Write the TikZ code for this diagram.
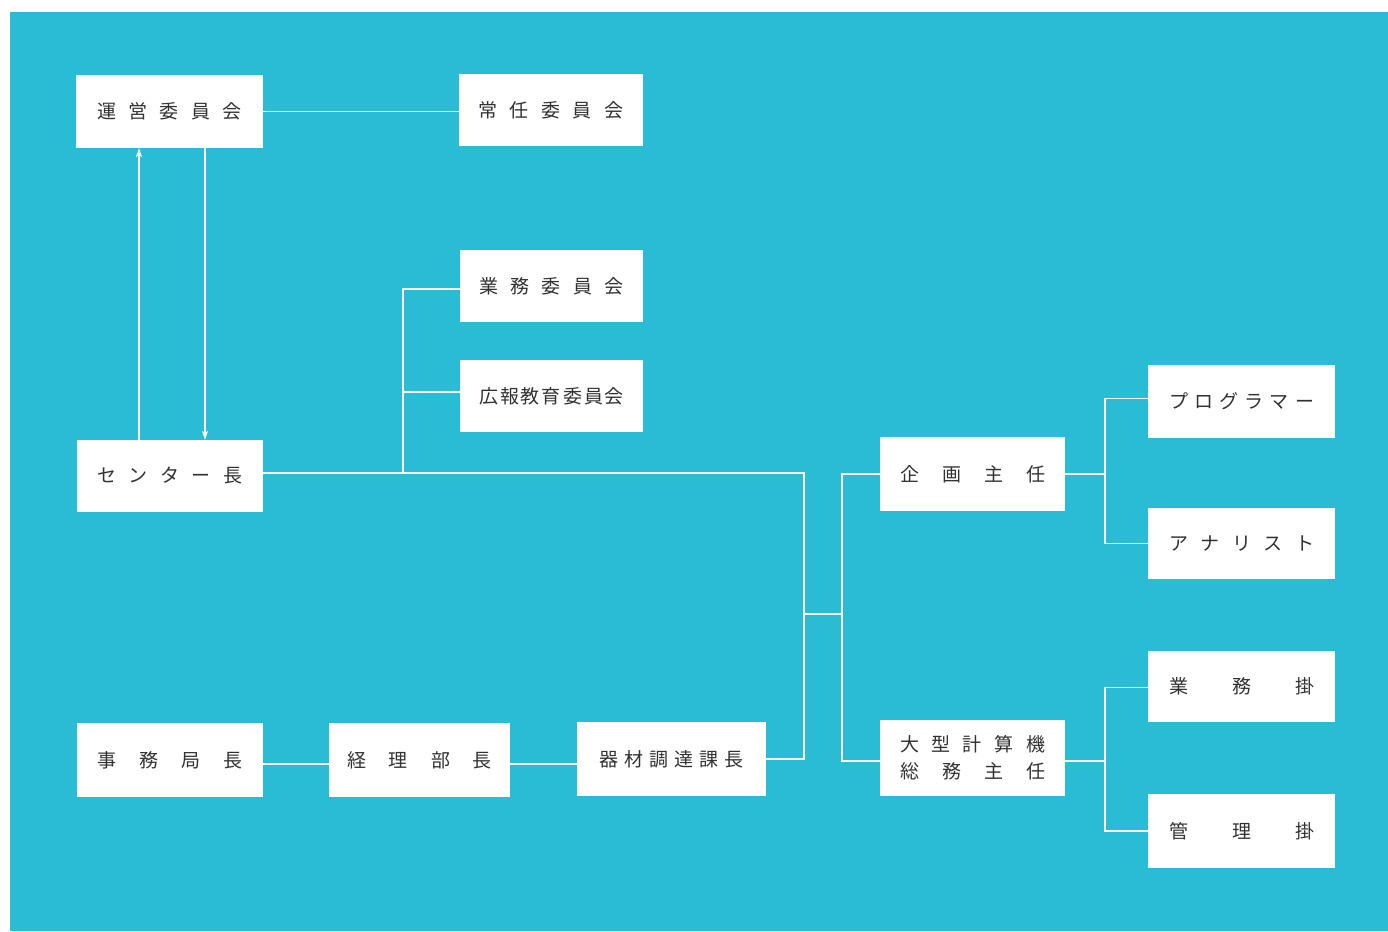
\documentclass[tikz,border=0pt]{standalone}
\usepackage{fontspec}
\newfontfamily\jp{Noto Sans CJK JP}
\usetikzlibrary{arrows.meta}
\definecolor{bgcyan}{RGB}{42,188,212}
\definecolor{txtgray}{RGB}{50,50,50}
\newcommand\sptx[1]{\hbox to 145pt{#1}}
\tikzset{
  box/.style={fill=white, draw=none, inner sep=0pt, font=\jp\fontsize{19}{27}\selectfont, text=txtgray, align=center},
  wline/.style={draw=white, line width=1.8pt},
  arr/.style={wline, -{Stealth[length=9pt,width=6pt]}}
}
\begin{document}
\begin{tikzpicture}[x=1pt,y=-1pt]
\fill[white] (0,0) rectangle (1388,931);
\fill[bgcyan] (10,12) rectangle (1388,931);
\useasboundingbox (0,0) rectangle (1388,931);

% boxes
\node[box, minimum width=187pt, minimum height=73pt] (unei) at (169.5,111.5) {\sptx{運\hfil 営\hfil 委\hfil 員\hfil 会}};
\node[box, minimum width=184pt, minimum height=72pt] (jonin) at (551,110) {\sptx{常\hfil 任\hfil 委\hfil 員\hfil 会}};
\node[box, minimum width=183pt, minimum height=72pt] (gyomuI) at (551.5,286) {\sptx{業\hfil 務\hfil 委\hfil 員\hfil 会}};
\node[box, minimum width=183pt, minimum height=72pt] (koho) at (551.5,396) {\sptx{広\hfil 報\hfil 教\hfil 育\hfil 委\hfil 員\hfil 会}};
\node[box, minimum width=186pt, minimum height=72pt] (center) at (170,476) {\sptx{セ\hfil ン\hfil タ\hfil ー\hfil 長}};
\node[box, minimum width=185pt, minimum height=74pt] (kikaku) at (972.5,474) {\sptx{企\hfil 画\hfil 主\hfil 任}};
\node[box, minimum width=187pt, minimum height=73pt] (prog) at (1241.5,401.5) {\sptx{プ\hfil ロ\hfil グ\hfil ラ\hfil マ\hfil ー}};
\node[box, minimum width=187pt, minimum height=71pt] (anal) at (1241.5,543.5) {\sptx{ア\hfil ナ\hfil リ\hfil ス\hfil ト}};
\node[box, minimum width=187pt, minimum height=71pt] (gyomuK) at (1241.5,686.5) {\sptx{業\hfil 務\hfil 掛}};
\node[box, minimum width=187pt, minimum height=74pt] (kanri) at (1241.5,831) {\sptx{管\hfil 理\hfil 掛}};
\node[box, minimum width=185pt, minimum height=76pt] (ogata) at (972.5,758) {\sptx{大\hfil 型\hfil 計\hfil 算\hfil 機}\\\sptx{総\hfil 務\hfil 主\hfil 任}};
\node[box, minimum width=186pt, minimum height=74pt] (jimu) at (170,760) {\sptx{事\hfil 務\hfil 局\hfil 長}};
\node[box, minimum width=181pt, minimum height=74pt] (keiri) at (419.5,760) {\sptx{経\hfil 理\hfil 部\hfil 長}};
\node[box, minimum width=189pt, minimum height=74pt] (kizai) at (671.5,759) {\sptx{器\hfil 材\hfil 調\hfil 達\hfil 課\hfil 長}};

% helper coordinates
\coordinate (ux) at (139,300);
\coordinate (dx) at (205,300);
\coordinate (bx) at (804,600);
\coordinate (cx) at (403,400);
\coordinate (m1) at (804,614);
\coordinate (m2) at (842,614);
\coordinate (r1) at (1105,600);

% connectors
\draw[wline] (unei.east) -- (jonin.west |- unei.east);
\draw[arr] (center.north -| ux) -- (unei.south -| ux);
\draw[arr] (unei.south -| dx) -- (center.north -| dx);
\draw[wline] ([yshift=3pt]center.east) -- ([yshift=3pt]center.east -| bx) -- (kizai.east -| bx) -- (kizai.east);
\draw[wline] ([yshift=3pt]center.east -| cx) -- ([yshift=-3pt]gyomuI.west -| cx) -- ([yshift=-3pt]gyomuI.west);
\draw[wline] ([yshift=4pt]koho.west -| cx) -- ([yshift=4pt]koho.west);
\draw[wline] (m1) -- (m2);
\draw[wline] (kikaku.west) -- (kikaku.west -| m2) -- ([yshift=-3pt]ogata.west -| m2) -- ([yshift=-3pt]ogata.west);
\draw[wline] (kikaku.east) -- (kikaku.east -| r1);
\draw[wline] ([yshift=3pt]prog.west) -- ([yshift=3pt]prog.west -| r1) -- (anal.west -| r1) -- (anal.west);
\draw[wline] ([yshift=-3pt]ogata.east) -- ([yshift=-3pt]ogata.east -| r1);
\draw[wline] ([yshift=-1pt]gyomuK.west) -- ([yshift=-1pt]gyomuK.west -| r1) -- (kanri.west -| r1) -- (kanri.west);
\draw[wline] ([yshift=-4pt]jimu.east) -- ([yshift=-4pt]jimu.east -| keiri.west);
\draw[wline] ([yshift=-4pt]keiri.east) -- ([yshift=-4pt]keiri.east -| kizai.west);
\end{tikzpicture}
\end{document}
